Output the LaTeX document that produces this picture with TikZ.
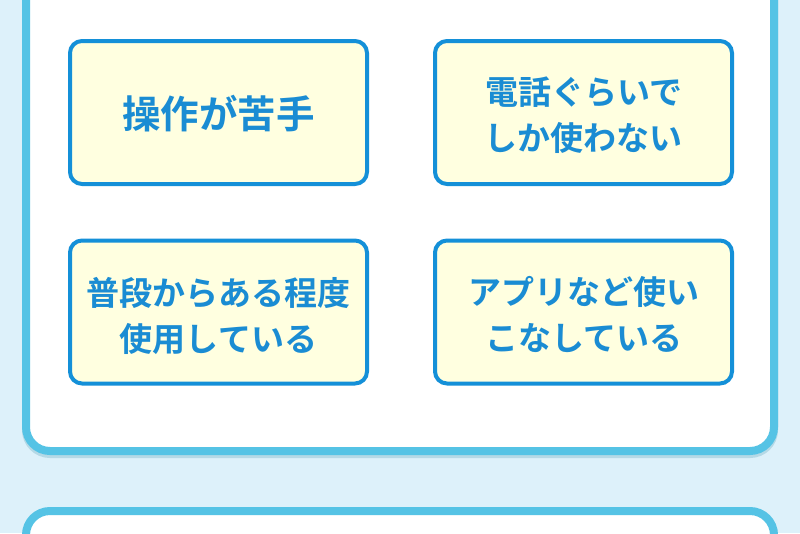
\documentclass[tikz,border=0pt]{standalone}
\usepackage{fontspec}
\newfontfamily\jp{Noto Sans CJK JP}[BoldFont={* Bold}]
\definecolor{bgblue}{HTML}{DDF1FA}
\definecolor{panelblue}{HTML}{55C3E5}
\definecolor{shadowblue}{HTML}{B5D9E6}
\definecolor{boxblue}{HTML}{1490D8}
\definecolor{boxfill}{HTML}{FFFFE0}
\definecolor{textblue}{HTML}{1A8CD3}
\tikzset{
  panel/.style={draw=panelblue, line width=8pt, fill=white, rounded corners=24pt},
  panelshadow/.style={draw=shadowblue, line width=8pt, rounded corners=24pt},
  choice/.style={draw=boxblue, line width=4pt, fill=boxfill, rounded corners=12pt,
    minimum width=297pt, minimum height=143pt, inner sep=0pt},
  txt/.style={text=textblue, align=center, inner sep=0pt,
    font=\jp\bfseries\fontsize{33}{46}\selectfont},
  bigtxt/.style={txt, font=\jp\bfseries\fontsize{38.5}{46}\selectfont}
}
\begin{document}
\begin{tikzpicture}[x=1pt,y=-1pt]
\useasboundingbox (0,0) rectangle (800,533);
\clip (0,0) rectangle (800,533);
\fill[bgblue] (0,0) rectangle (800,533);
% upper panel
\draw[panelshadow] (26,-60) rectangle (774,454);
\draw[panel] (26,-60) rectangle (774,451);
% lower panel
\draw[panelshadow] (26,513) rectangle (774,620);
\draw[panel] (26,511) rectangle (774,620);
% boxes
\node[choice] (a) at (218.5,112.5) {};
\node[choice] (b) at (583.5,112.5) {};
\node[choice] (c) at (218.5,312) {};
\node[choice] (d) at (583.5,312) {};
% texts
\node[bigtxt] (ta) at ([yshift=-1pt]a.center) {操作が苦手};
\node[txt] (tb) at ([yshift=-3pt]b.center) {電話ぐらいで\\しか使わない};
\node[txt] (tc) at ([yshift=-4pt]c.center) {普段からある程度\\使用している};
\node[txt] (td) at ([yshift=-3pt]d.center) {アプリなど使い\\こなしている};
\end{tikzpicture}
\end{document}
